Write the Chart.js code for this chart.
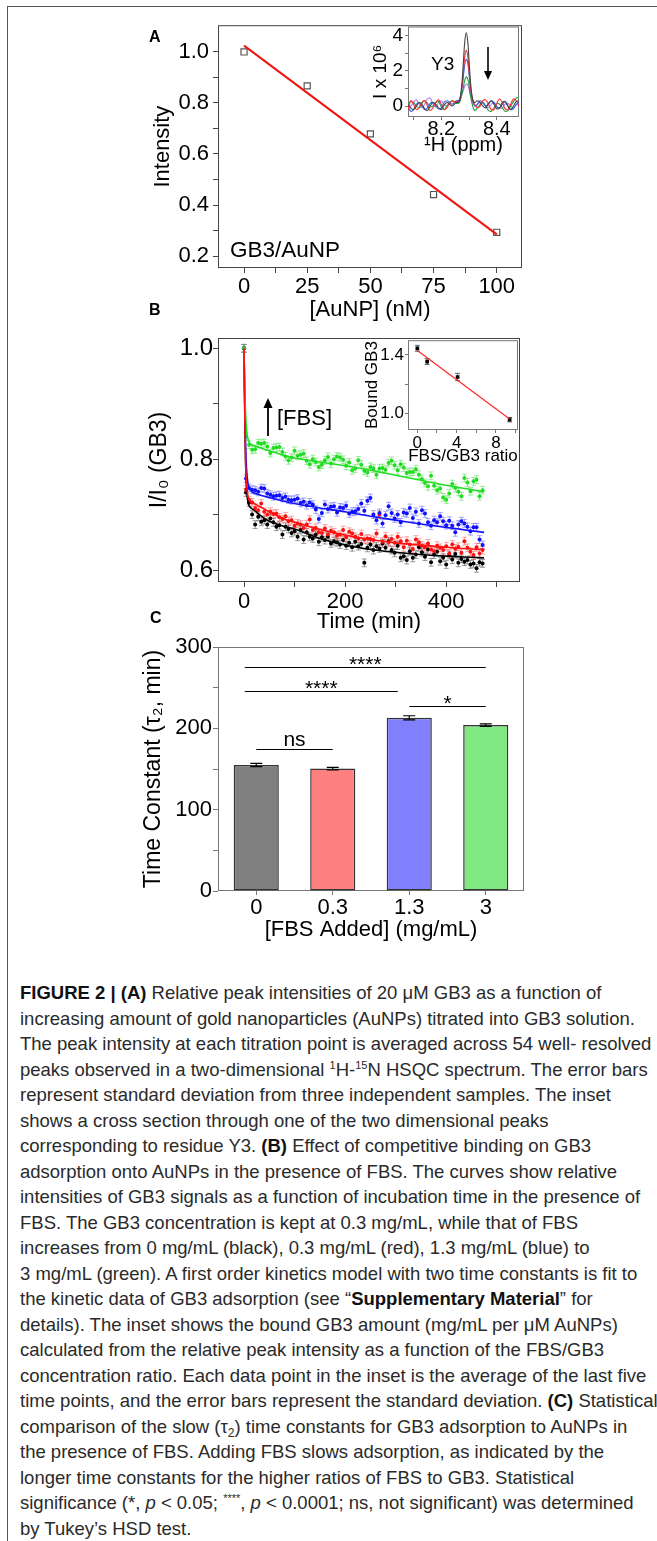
<!DOCTYPE html>
<html>
<head>
<meta charset="utf-8">
<script src="https://cdn.jsdelivr.net/npm/chart.js@4.4.1/dist/chart.umd.min.js"></script>
<style>
  body { margin: 0; background: #fff; width: 657px; height: 1541px; position: relative; overflow: hidden;
         font-family: "Liberation Sans", Arial, sans-serif; }
  .frame { position: absolute; left: 7px; top: 6px; width: 700px; height: 1600px;
           border-left: 1px solid #555; border-top: 1px solid #555; }
  canvas { position: absolute; }
  .txt { position: absolute; white-space: nowrap; color: #000; line-height: 1; }
  .letter { font-weight: bold; font-size: 16px; }
  svg { position: absolute; overflow: visible; }
  .caption { position: absolute; left: 20px; top: 980px; font-family: "Liberation Sans", Arial, sans-serif;
             font-size: 18.5px; line-height: 25.5px; color: #2a2a2a; white-space: nowrap; }
  .caption b { color: #111; }
  .sup { font-size: 11px; position: relative; top: -7px; line-height: 0; vertical-align: baseline; }
  .sub { font-size: 12px; position: relative; top: 4px; line-height: 0; vertical-align: baseline; }
</style>
</head>
<body>
<div class="frame"></div>

<canvas id="chartA" width="400" height="317" style="left:140px;top:8px"></canvas>
<canvas id="insetA" width="160" height="145" style="left:365px;top:15px"></canvas>
<canvas id="chartB" width="400" height="312" style="left:140px;top:323px"></canvas>
<canvas id="insetB" width="163" height="139" style="left:360px;top:329px"></canvas>
<canvas id="chartC" width="400" height="313" style="left:140px;top:632px"></canvas>

<div class="txt letter" style="left:149px;top:29px">A</div>
<div class="txt letter" style="left:149px;top:302px">B</div>
<div class="txt letter" style="left:150px;top:610px">C</div>

<div class="txt" style="left:230px;top:239px;font-size:22.5px">GB3/AuNP</div>
<div class="txt" style="left:431px;top:54px;font-size:19px">Y3</div>
<svg style="left:0;top:0" width="657" height="700">
  <line x1="488" y1="47" x2="488" y2="74" stroke="#000" stroke-width="1.6"/>
  <polygon points="484,71 492,71 488,80" fill="#000"/>
  <line x1="268" y1="436" x2="268" y2="405" stroke="#000" stroke-width="1.8"/>
  <polygon points="263.5,408 272.5,408 268,398" fill="#000"/>
</svg>
<div class="txt" style="left:277px;top:407px;font-size:22px">[FBS]</div>

<div class="caption">
<b>FIGURE 2 | (A)</b> Relative peak intensities of 20 μM GB3 as a function of<br>
increasing amount of gold nanoparticles (AuNPs) titrated into GB3 solution.<br>
The peak intensity at each titration point is averaged across 54 well- resolved<br>
peaks observed in a two-dimensional <span class="sup">1</span>H-<span class="sup">15</span>N HSQC spectrum. The error bars<br>
represent standard deviation from three independent samples. The inset<br>
shows a cross section through one of the two dimensional peaks<br>
corresponding to residue Y3. <b>(B)</b> Effect of competitive binding on GB3<br>
adsorption onto AuNPs in the presence of FBS. The curves show relative<br>
intensities of GB3 signals as a function of incubation time in the presence of<br>
FBS. The GB3 concentration is kept at 0.3 mg/mL, while that of FBS<br>
increases from 0 mg/mL (black), 0.3 mg/mL (red), 1.3 mg/mL (blue) to<br>
3 mg/mL (green). A first order kinetics model with two time constants is fit to<br>
the kinetic data of GB3 adsorption (see “<b>Supplementary Material</b>” for<br>
details). The inset shows the bound GB3 amount (mg/mL per μM AuNPs)<br>
calculated from the relative peak intensity as a function of the FBS/GB3<br>
concentration ratio. Each data point in the inset is the average of the last five<br>
time points, and the error bars represent the standard deviation. <b>(C)</b> Statistical<br>
comparison of the slow (τ<span class="sub">2</span>) time constants for GB3 adsorption to AuNPs in<br>
the presence of FBS. Adding FBS slows adsorption, as indicated by the<br>
longer time constants for the higher ratios of FBS to GB3. Statistical<br>
significance (*, <i>p</i> &lt; 0.05; <span class="sup">****</span>, <i>p</i> &lt; 0.0001; ns, not significant) was determined<br>
by Tukey’s HSD test.
</div>

<script>
// ---- panel A: intensity vs AuNP
const aConc = [0, 25, 50, 75, 100];
const aInt = [1.0, 0.867, 0.679, 0.441, 0.293];
const aFitX = [0, 100];
const aFitY = [1.025, 0.285];

// ---- panel A inset: Y3 cross sections
const ppm = [8.08, 8.09, 8.10, 8.11, 8.12, 8.13, 8.14, 8.15, 8.16, 8.17, 8.18, 8.19, 8.20, 8.21, 8.22, 8.23, 8.24, 8.25,
  8.255, 8.26, 8.265, 8.27, 8.275, 8.28, 8.285, 8.29, 8.295, 8.30, 8.305, 8.31, 8.315, 8.32, 8.325,
  8.33, 8.34, 8.35, 8.36, 8.37, 8.38, 8.39, 8.40, 8.41, 8.42, 8.43, 8.44, 8.45, 8.46, 8.47, 8.48];
const specBlack = [0.1, -0.1, -0.2, 0.0, 0.2, 0.1, -0.15, -0.25, 0.0, 0.2, 0.1, -0.1, -0.2, 0.05, 0.2, 0.1, 0.0, 0.15,
  0.2, 0.2, 0.26, 0.65, 1.41, 2.6, 3.71, 4.15, 3.7, 2.6, 1.4, 0.65, 0.3, 0.2, 0.25,
  0.3, 0.2, 0.0, -0.1, 0.15, 0.3, 0.1, -0.15, -0.1, 0.2, 0.25, 0.0, -0.2, 0.0, 0.25, 0.3];
const specRed = [-0.2, 0.3, 0.1, -0.2, -0.1, 0.2, 0.3, 0.0, -0.25, -0.1, 0.2, 0.35, 0.1, -0.2, -0.1, 0.15, 0.3, 0.2,
  0.25, 0.25, 0.3, 0.6, 1.15, 2.05, 2.85, 3.15, 2.85, 2.0, 1.1, 0.55, 0.25, 0.1, 0.0,
  -0.1, 0.0, 0.3, 0.35, 0.1, -0.2, -0.2, 0.15, 0.4, 0.2, -0.15, -0.2, 0.1, 0.4, 0.3, 0.0];
const specBlue = [0.0, -0.3, -0.2, 0.1, 0.2, 0.0, -0.2, -0.1, 0.15, 0.2, 0.0, -0.15, -0.1, 0.2, 0.3, 0.2, 0.1, 0.25,
  0.3, 0.3, 0.35, 0.6, 1.05, 1.75, 2.4, 2.65, 2.45, 1.8, 1.0, 0.5, 0.2, 0.05, 0.0,
  0.1, 0.3, 0.2, 0.0, 0.1, 0.3, 0.2, -0.05, -0.1, 0.1, 0.25, 0.0, -0.2, -0.15, 0.1, 0.2];
const specGreen = [0.1, 0.25, 0.2, 0.0, -0.1, 0.15, 0.3, 0.15, -0.05, 0.0, 0.2, 0.25, -0.05, -0.2, 0.0, 0.2, 0.3, 0.2,
  0.15, 0.15, 0.2, 0.4, 0.7, 1.1, 1.5, 1.65, 1.55, 1.15, 0.6, 0.2, -0.1, -0.25, -0.2,
  -0.1, 0.1, 0.2, 0.0, -0.25, -0.3, -0.1, 0.15, 0.1, -0.1, -0.3, -0.25, 0.0, 0.25, 0.45, 0.5];
const specViolet = [-0.1, 0.0, 0.2, 0.35, 0.1, -0.1, 0.1, 0.4, 0.45, 0.1, -0.05, 0.2, 0.3, 0.1, 0.0, 0.2, 0.3, 0.2,
  0.25, 0.3, 0.35, 0.5, 0.7, 0.9, 1.15, 1.25, 1.2, 0.95, 0.6, 0.3, 0.1, 0.0, 0.0,
  0.1, 0.2, 0.15, 0.0, -0.1, 0.1, 0.2, 0.0, -0.15, -0.1, 0.1, 0.15, 0.0, -0.1, 0.05, 0.1];

// ---- panel B: I/I0 vs time
const bTime = [0, 4, 10, 16, 22, 28, 34, 40, 46, 52, 58, 64, 70, 76, 82, 88, 94, 100, 106, 112, 118, 124, 130, 136,
  142, 148, 154, 160, 166, 172, 178, 184, 190, 196, 202, 208, 214, 220, 226, 232, 238, 244, 250, 256, 262, 268,
  274, 280, 286, 292, 298, 304, 310, 316, 322, 328, 334, 340, 346, 352, 358, 364, 370, 376, 382, 388, 394, 400,
  406, 412, 418, 424, 430, 436, 442, 448, 454, 460, 466, 472];
const bBlack = [1.0, 0.740, 0.722, 0.700, 0.682, 0.696, 0.687, 0.690, 0.682, 0.693, 0.686, 0.678, 0.681, 0.664,
  0.678, 0.674, 0.667, 0.670, 0.660, 0.672, 0.655, 0.668, 0.660, 0.657, 0.664, 0.651, 0.659, 0.654, 0.660, 0.648,
  0.652, 0.650, 0.646, 0.654, 0.644, 0.649, 0.641, 0.651, 0.643, 0.647, 0.613, 0.640, 0.646, 0.636, 0.643, 0.639,
  0.648, 0.640, 0.652, 0.636, 0.631, 0.644, 0.622, 0.625, 0.618, 0.634, 0.622, 0.628, 0.641, 0.632, 0.624, 0.637,
  0.614, 0.628, 0.633, 0.616, 0.622, 0.610, 0.627, 0.619, 0.629, 0.613, 0.620, 0.615, 0.618, 0.610, 0.612, 0.603,
  0.614, 0.612];
const bRed = [1.0, 0.745, 0.726, 0.722, 0.712, 0.708, 0.720, 0.705, 0.700, 0.705, 0.701, 0.702, 0.695, 0.692, 0.697,
  0.688, 0.690, 0.680, 0.684, 0.682, 0.676, 0.682, 0.691, 0.672, 0.676, 0.668, 0.667, 0.675, 0.664, 0.671, 0.668,
  0.662, 0.664, 0.672, 0.659, 0.669, 0.666, 0.660, 0.657, 0.665, 0.655, 0.657, 0.656, 0.654, 0.666, 0.700, 0.651,
  0.661, 0.650, 0.656, 0.649, 0.660, 0.652, 0.641, 0.653, 0.646, 0.638, 0.655, 0.650, 0.644, 0.641, 0.648, 0.637,
  0.634, 0.644, 0.640, 0.636, 0.643, 0.630, 0.646, 0.639, 0.642, 0.631, 0.652, 0.640, 0.633, 0.627, 0.641, 0.630,
  0.636];
const bBlue = [1.0, 0.765, 0.748, 0.745, 0.744, 0.741, 0.748, 0.747, 0.738, 0.736, 0.733, 0.734, 0.735, 0.730, 0.732,
  0.727, 0.726, 0.727, 0.729, 0.721, 0.723, 0.717, 0.722, 0.718, 0.709, 0.692, 0.703, 0.718, 0.710, 0.714, 0.715,
  0.704, 0.713, 0.712, 0.716, 0.702, 0.705, 0.706, 0.710, 0.720, 0.707, 0.725, 0.730, 0.700, 0.690, 0.703, 0.684,
  0.699, 0.715, 0.703, 0.693, 0.700, 0.686, 0.704, 0.702, 0.712, 0.694, 0.705, 0.684, 0.708, 0.702, 0.686, 0.680,
  0.690, 0.686, 0.697, 0.688, 0.681, 0.689, 0.680, 0.668, 0.682, 0.688, 0.684, 0.678, 0.670, 0.677, 0.677, 0.655,
  0.645];
const bGreen = [1.0, 0.841, 0.826, 0.817, 0.818, 0.829, 0.828, 0.829, 0.823, 0.811, 0.820, 0.821, 0.822, 0.813,
  0.805, 0.798, 0.803, 0.815, 0.806, 0.808, 0.810, 0.797, 0.791, 0.800, 0.795, 0.786, 0.790, 0.798, 0.804, 0.792,
  0.800, 0.805, 0.803, 0.799, 0.788, 0.794, 0.780, 0.783, 0.798, 0.790, 0.779, 0.776, 0.786, 0.783, 0.772, 0.783,
  0.784, 0.781, 0.793, 0.797, 0.789, 0.780, 0.791, 0.785, 0.775, 0.777, 0.777, 0.782, 0.772, 0.764, 0.757, 0.751,
  0.770, 0.752, 0.744, 0.747, 0.731, 0.727, 0.738, 0.755, 0.748, 0.741, 0.733, 0.766, 0.758, 0.742, 0.760, 0.763,
  0.733, 0.744];
const bErr = [0.007, 0.007, 0.007, 0.007]; // black, red, blue, green
const bFitT = [0, 1, 2, 3, 4, 6, 8, 10, 15, 20, 30, 50, 75, 100, 150, 200, 250, 300, 350, 400, 450, 475];
const bFitBlack = [1.0, 0.92, 0.85, 0.80, 0.765, 0.735, 0.722, 0.716, 0.711, 0.708, 0.700, 0.688, 0.680, 0.674,
  0.657, 0.645, 0.637, 0.632, 0.628, 0.625, 0.623, 0.622];
const bFitRed = [1.0, 0.92, 0.85, 0.80, 0.77, 0.745, 0.732, 0.727, 0.723, 0.720, 0.715, 0.705, 0.694, 0.686,
  0.673, 0.663, 0.655, 0.649, 0.645, 0.641, 0.638, 0.637];
const bFitBlue = [1.0, 0.93, 0.87, 0.83, 0.80, 0.77, 0.755, 0.748, 0.742, 0.739, 0.736, 0.731, 0.725, 0.720,
  0.712, 0.705, 0.697, 0.690, 0.683, 0.677, 0.671, 0.668];
const bFitGreen = [1.0, 0.95, 0.91, 0.885, 0.866, 0.845, 0.836, 0.831, 0.826, 0.824, 0.821, 0.815, 0.808, 0.802,
  0.795, 0.788, 0.780, 0.771, 0.762, 0.753, 0.745, 0.741];

// ---- panel B inset: bound GB3 vs FBS/GB3 ratio
const ratio = [0, 1, 4.1, 9.4];
const bound = [1.445, 1.355, 1.25, 0.96];
const boundErr = [0.02, 0.02, 0.025, 0.015];
const boundFitX = [0, 9.4];
const boundFitY = [1.43, 0.965];

// ---- panel C: tau2 bars
const fbsAdded = ['0', '0.3', '1.3', '3'];
const tau2 = [155, 150.5, 213, 204];
const tau2Err = [2, 1.5, 2.5, 1.5];
const sigFrom = [-0.15, -0.15, 0, 2];
const sigTo = [3, 1.85, 1, 3];
const sigY = [276, 246, 174, 227];
const sigLabel = ['****', '****', 'ns', '*'];

Chart.defaults.font.family = '"Liberation Sans", Arial, sans-serif';
Chart.defaults.color = '#000';

function pts(xs, ys) {
  return xs.map((x, i) => ({ x: x, y: ys[i] }));
}

// stroke the plot box
const framePlugin = {
  id: 'frame',
  beforeDatasetsDraw(chart, args, opts) {
    const { ctx, chartArea: a } = chart;
    ctx.save();
    ctx.strokeStyle = opts.color || '#444';
    ctx.lineWidth = opts.width || 1;
    ctx.strokeRect(a.left + 0.5, a.top + 0.5, a.right - a.left - 1, a.bottom - a.top - 1);
    ctx.restore();
  }
};

// vertical error bars from dataset.errors
function drawErrors(chart) {
  const { ctx } = chart;
  const ys = chart.scales.y;
  chart.data.datasets.forEach((ds, i) => {
    if (!ds.errors) return;
    const meta = chart.getDatasetMeta(i);
    ctx.save();
    ctx.strokeStyle = ds.errorColor;
    ctx.lineWidth = ds.errorWidth || 1;
    meta.data.forEach((el, j) => {
      const v = ds.data[j].y !== undefined ? ds.data[j].y : ds.data[j];
      const e = ds.errors[j];
      if (!e) return;
      const x = el.x;
      const y1 = ys.getPixelForValue(v + e), y2 = ys.getPixelForValue(v - e);
      const c = ds.errorCap;
      ctx.beginPath();
      ctx.moveTo(x, y1); ctx.lineTo(x, y2);
      ctx.moveTo(x - c, y1); ctx.lineTo(x + c, y1);
      ctx.moveTo(x - c, y2); ctx.lineTo(x + c, y2);
      ctx.stroke();
    });
    ctx.restore();
  });
}
const errorsBehind = { id: 'errorsBehind', beforeDatasetsDraw: drawErrors };
const errorsFront = { id: 'errorsFront', afterDatasetsDraw: drawErrors };

// significance brackets over the bars
const sigPlugin = {
  id: 'sig',
  afterDatasetsDraw(chart) {
    const { ctx } = chart;
    const xs = chart.scales.x, ys = chart.scales.y;
    ctx.save();
    ctx.strokeStyle = '#000';
    ctx.fillStyle = '#000';
    ctx.lineWidth = 1;
    ctx.textAlign = 'center';
    ctx.textBaseline = 'alphabetic';
    sigLabel.forEach((lab, i) => {
      const x1 = xs.getPixelForValue(sigFrom[i]), x2 = xs.getPixelForValue(sigTo[i]);
      const y = Math.round(ys.getPixelForValue(sigY[i])) + 0.5;
      ctx.beginPath(); ctx.moveTo(x1, y); ctx.lineTo(x2, y); ctx.stroke();
      if (lab.indexOf('*') >= 0) {
        ctx.font = '21px "Liberation Sans", Arial, sans-serif';
        ctx.fillText(lab, (x1 + x2) / 2, y + 3);
      } else {
        ctx.font = '21px "Liberation Sans", Arial, sans-serif';
        ctx.fillText(lab, (x1 + x2) / 2, y - 4);
      }
    });
    ctx.restore();
  }
};

// linear axis with labelled majors and unlabelled minors
function linAxis(o) {
  return {
    type: 'linear',
    min: o.min, max: o.max,
    afterBuildTicks: (s) => {
      s.ticks = o.major.concat(o.minor).sort((a, b) => a - b).map(v => ({ value: v }));
    },
    afterFit: (s) => {
      if (o.width !== undefined) s.width = o.width;
      if (o.height !== undefined) s.height = o.height;
    },
    ticks: {
      autoSkip: false, maxRotation: 0, padding: o.pad,
      font: { size: o.size, lineHeight: o.lh || 1.2 },
      callback: (v) => o.major.some(m => Math.abs(m - v) < 1e-9) ? o.fmt(v) : ''
    },
    grid: { drawOnChartArea: false, tickLength: o.tick || 5, color: o.color || '#444' },
    border: { display: false },
    title: { display: true, text: o.title, font: { size: o.tsize, lineHeight: o.tlh || 1.2 }, padding: o.tpad }
  };
}

function baseOptions(padding, scales, frameColor) {
  return {
    responsive: false, animation: false, events: [],
    layout: { padding: padding },
    plugins: { legend: { display: false }, tooltip: { enabled: false }, frame: { color: frameColor } },
    scales: scales
  };
}

// ---------- chart A
new Chart(document.getElementById('chartA'), {
  type: 'scatter',
  data: { datasets: [
    { data: pts(aConc, aInt), pointStyle: 'rect', pointRadius: 4.3, borderColor: '#555',
      backgroundColor: 'rgba(0,0,0,0)', borderWidth: 1.2, order: 1 },
    { data: pts(aFitX, aFitY), showLine: true, pointRadius: 0, borderColor: '#f01414', borderWidth: 2, order: 0 }
  ] },
  options: baseOptions({ top: 15, right: 18, left: 0, bottom: 0 }, {
    x: linAxis({ min: -10.3, max: 110, major: [0, 25, 50, 75, 100], minor: [12.5, 37.5, 62.5, 87.5],
      fmt: v => String(v), size: 22, pad: 1, height: 57, title: '[AuNP] (nM)', tsize: 22, tpad: { bottom: 2 } }),
    y: linAxis({ min: 0.153, max: 1.105, major: [0.2, 0.4, 0.6, 0.8, 1.0], minor: [0.3, 0.5, 0.7, 0.9],
      fmt: v => v.toFixed(1), size: 22, pad: 4, width: 78, title: 'Intensity', tsize: 22, tpad: { top: 10 } })
  }, '#444'),
  plugins: [framePlugin]
});

// ---------- inset A
const specColors = ['#444444', '#ff3030', '#2a62ee', '#23a045', '#b07ef0'];
const specData = [specBlack, specRed, specBlue, specGreen, specViolet];
new Chart(document.getElementById('insetA'), {
  type: 'scatter',
  data: { datasets: specData.map((s, i) => ({
    data: pts(ppm, s), showLine: true, pointRadius: 0, borderColor: specColors[i], borderWidth: 1.1,
    tension: 0.4, order: i === 0 ? -1 : i
  })) },
  options: baseOptions({ top: 11, right: 6, left: 0, bottom: 0 }, {
    x: linAxis({ min: 8.08, max: 8.48, major: [8.2, 8.4], minor: [8.1, 8.3], fmt: v => v.toFixed(1),
      size: 20, lh: 1, pad: -1, tick: 3, height: 43, color: '#777', title: '\u00B9H (ppm)', tsize: 20, tlh: 1,
      tpad: { bottom: 5 } }),
    y: linAxis({ min: -0.62, max: 4.5, major: [0, 2, 4], minor: [1, 3], fmt: v => String(v),
      size: 19, lh: 1, pad: 2, tick: 3, width: 43, color: '#777', title: 'I x 10\u2076', tsize: 19, tlh: 1,
      tpad: { top: 6 } })
  }, '#777'),
  plugins: [framePlugin]
});

// ---------- chart B
const bSeries = [bBlack, bRed, bBlue, bGreen];
const bFits = [bFitBlack, bFitRed, bFitBlue, bFitGreen];
const bColors = ['#000000', '#ff1010', '#1010ff', '#22dd22'];
const bErrColors = ['rgba(90,90,90,0.6)', 'rgba(255,80,80,0.5)', 'rgba(80,80,255,0.5)', 'rgba(60,220,60,0.5)'];
const bDatasets = [];
bSeries.forEach((s, i) => {
  bDatasets.push({ data: pts(bTime, s), pointRadius: 2, pointStyle: 'circle', backgroundColor: bColors[i],
    borderWidth: 0, errors: s.map(() => bErr[i]), errorColor: bErrColors[i], errorCap: 2.5, errorWidth: 1,
    order: 10 - i });
});
bFits.forEach((f, i) => {
  bDatasets.push({ data: pts(bFitT, f), showLine: true, pointRadius: 0, borderColor: bColors[i],
    borderWidth: 1.6, cubicInterpolationMode: 'monotone', order: i === 1 ? 0 : 5 - i });
});
new Chart(document.getElementById('chartB'), {
  type: 'scatter',
  data: { datasets: bDatasets },
  options: baseOptions({ top: 15, right: 20, left: 0, bottom: 0 }, {
    x: linAxis({ min: -51.5, max: 546, major: [0, 200, 400], minor: [100, 300, 500], fmt: v => String(v),
      size: 22, pad: 2, height: 53, title: 'Time (min)', tsize: 22, tpad: { bottom: 0 } }),
    y: linAxis({ min: 0.5784, max: 1.0186, major: [0.6, 0.8, 1.0], minor: [0.7, 0.9], fmt: v => v.toFixed(1),
      size: 24, pad: 0, width: 78, title: 'I/I\u2080 (GB3)', tsize: 23, tpad: { top: 6 } })
  }, '#444'),
  plugins: [framePlugin, errorsBehind]
});

// ---------- inset B
new Chart(document.getElementById('insetB'), {
  type: 'scatter',
  data: { datasets: [
    { data: pts(ratio, bound), pointStyle: 'rect', pointRadius: 2.6, backgroundColor: '#000', borderWidth: 0,
      errors: boundErr, errorColor: '#666', errorCap: 2.5, errorWidth: 1, order: 1 },
    { data: pts(boundFitX, boundFitY), showLine: true, pointRadius: 0, borderColor: '#ff2a2a', borderWidth: 1.2, order: 0 }
  ] },
  options: baseOptions({ top: 11, right: 5, left: 0, bottom: 0 }, {
    x: linAxis({ min: -0.95, max: 10.25, major: [0, 4, 8], minor: [2, 6, 10], fmt: v => String(v),
      size: 17, pad: 0, tick: 3, height: 38, color: '#777', title: 'FBS/GB3 ratio', tsize: 17, tpad: { bottom: 1 } }),
    y: linAxis({ min: 0.89, max: 1.5, major: [1.0, 1.4], minor: [1.2], fmt: v => v.toFixed(1),
      size: 17, pad: 1, tick: 3, width: 48, color: '#777', title: 'Bound GB3', tsize: 17, tpad: { top: 2 } })
  }, '#777'),
  plugins: [framePlugin, errorsBehind]
});

// ---------- chart C
const yC = linAxis({ min: 0, max: 300, major: [0, 100, 200, 300], minor: [50, 150, 250], fmt: v => String(v),
  size: 22, pad: 1, width: 78, color: '#777', title: 'Time Constant (\u03C4\u2082, min)', tsize: 23, tpad: { top: 0 } });
new Chart(document.getElementById('chartC'), {
  type: 'bar',
  data: { labels: fbsAdded, datasets: [{
    data: tau2, errors: tau2Err, errorColor: '#000', errorCap: 6, errorWidth: 1.2,
    backgroundColor: ['#808080', '#ff8080', '#8080ff', '#80e880'], borderColor: '#333', borderWidth: 1.5,
    borderSkipped: false, categoryPercentage: 1, barPercentage: 0.59
  }] },
  options: baseOptions({ top: 15, right: 16, left: 0, bottom: 0 }, {
    x: {
      type: 'category', offset: true,
      afterFit: (s) => { s.height = 54; },
      ticks: { font: { size: 22 }, padding: 0, maxRotation: 0 },
      grid: { drawOnChartArea: false, offset: false, tickLength: 4, color: '#777' },
      border: { display: false },
      title: { display: true, text: '[FBS Added] (mg/mL)', font: { size: 22 }, padding: { bottom: 2 } }
    },
    y: yC
  }, '#777'),
  plugins: [framePlugin, errorsFront, sigPlugin]
});
</script>
</body>
</html>
